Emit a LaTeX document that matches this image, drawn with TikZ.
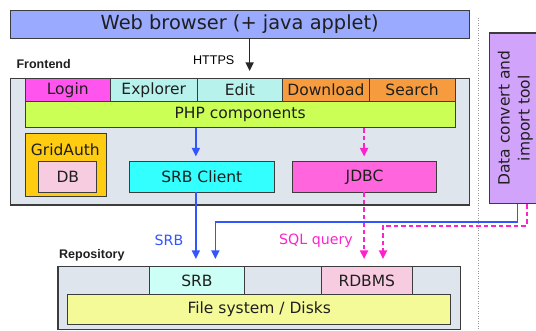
\documentclass[tikz,border=0pt]{standalone}
\usepackage{fontspec}
\setmainfont{DejaVu Sans}
\newfontfamily\arialf{Liberation Sans}
\usetikzlibrary{arrows.meta}
\definecolor{cBrowser}{RGB}{153,170,255}
\definecolor{cBack}{RGB}{222,229,236}
\definecolor{cLogin}{RGB}{255,85,238}
\definecolor{cLightCyan}{RGB}{184,242,236}
\definecolor{cOrange}{RGB}{247,156,62}
\definecolor{cPHP}{RGB}{204,255,85}
\definecolor{cGold}{RGB}{255,204,17}
\definecolor{cPink}{RGB}{248,204,224}
\definecolor{cCyan}{RGB}{51,255,255}
\definecolor{cJDBC}{RGB}{255,102,221}
\definecolor{cRSRB}{RGB}{204,255,245}
\definecolor{cFS}{RGB}{245,250,153}
\definecolor{cTool}{RGB}{210,163,250}
\definecolor{cBlueLine}{RGB}{51,85,255}
\definecolor{cPinkLine}{RGB}{255,34,204}
\definecolor{cBorder}{RGB}{60,60,60}
\begin{document}
\begin{tikzpicture}[x=1pt,y=-1pt,
  box/.style={draw=cBorder, line width=0.9pt, inner sep=0pt, anchor=north west,
    font=\fontsize{15.5}{18}\selectfont, text=black!88},
  outer/.style={box, line width=1.3pt},
  grp/.style={font=\arialf\bfseries\fontsize{12.5}{14}\selectfont, text=black!88, inner sep=0pt},
  blueflow/.style={draw=cBlueLine, line width=1.3pt, -{Triangle[length=8.5pt,width=8pt]}},
  pinkflow/.style={draw=cPinkLine, line width=1.7pt, dash pattern=on 4.5pt off 3pt,
    -{Triangle[length=8.5pt,width=8pt]}},
  lbl/.style={font=\fontsize{14.2}{16}\selectfont, inner sep=0pt}
]
\useasboundingbox (0,0) rectangle (536,331);

% browser
\node[box, fill=cBrowser, minimum width=459.4pt, minimum height=28pt,
  font=\fontsize{19.4}{22}\selectfont] (browser) at (9.6,9.6) {Web browser (+ java applet)};

% frontend
\node[grp, anchor=west] (frontlbl) at (16.4,64) {Frontend};
\node[outer, fill=cBack, minimum width=459.4pt, minimum height=126.3pt] (front) at (9.6,78) {};
\node[box, fill=cLogin, minimum width=85.4pt, minimum height=23.2pt] (login) at (24.6,78) {Login};
\node[box, fill=cLightCyan, minimum width=86.6pt, minimum height=23.2pt] (explorer) at (110,78) {Explorer};
\node[box, fill=cLightCyan, minimum width=85.8pt, minimum height=23.2pt] (edit) at (196.6,78) {Edit};
\node[box, fill=cOrange, minimum width=86.1pt, minimum height=23.2pt] (download) at (282.4,78) {Download};
\node[box, fill=cOrange, minimum width=86.2pt, minimum height=23.2pt] (search) at (368.5,78) {Search};
\node[box, fill=cPHP, minimum width=430.1pt, minimum height=26.2pt] (php) at (24.6,101.2) {PHP components};
\node[box, fill=cGold, minimum width=81.4pt, minimum height=62.5pt] (grid) at (24.6,133.2) {};
\node[font=\fontsize{15.5}{18}\selectfont, text=black!88, inner sep=0pt] (gridlbl) at (65.3,149.6) {GridAuth};
\node[box, fill=cPink, minimum width=58.1pt, minimum height=30.1pt] (db) at (38.3,161.5) {DB};
\node[box, fill=cCyan, minimum width=144.3pt, minimum height=30.1pt] (srbc) at (129.2,161.5) {SRB Client};
\node[box, fill=cJDBC, minimum width=143.6pt, minimum height=30.1pt] (jdbc) at (292.3,161.5) {JDBC};

% tool
\node[outer, fill=cTool, minimum width=52.5pt, minimum height=170.7pt] (tool) at (488.5,32.3) {};
\node[rotate=90, align=center, font=\fontsize{15.5}{20}\selectfont, text=black!88, inner sep=0pt]
  (tooltext) at (tool.center) {Data convert and\\import tool};

% repository
\node[grp, anchor=west] (repolbl) at (59,255.4) {Repository};
\node[outer, fill=cBack, minimum width=402.1pt, minimum height=63pt] (repo) at (57.4,266) {};
\node[box, fill=cRSRB, minimum width=95.7pt, minimum height=28.4pt] (rsrb) at (148.7,266) {SRB};
\node[box, fill=cPink, minimum width=91.3pt, minimum height=28.4pt] (rdbms) at (320.7,266) {RDBMS};
\node[box, fill=cFS, minimum width=383pt, minimum height=29.4pt] (fs) at (67.3,294.4) {File system / Disks};

% HTTPS
\coordinate (httpsEnd) at (249.6,71);
\draw[line width=1.3pt, black!85, -{Triangle[length=8.5pt,width=8pt]}] (browser.south -| httpsEnd) -- (httpsEnd);
\node[font=\arialf\fontsize{12.6}{14}\selectfont, inner sep=0pt] (httpslbl) at (213.7,59.8) {HTTPS};

% flows
\coordinate (bx) at (195.9,0);
\coordinate (px) at (364.1,0);
\draw[blueflow, shorten >=5pt] (php.south -| bx) -- (srbc.north -| bx);
\draw[pinkflow, shorten >=5pt] (php.south -| px) -- (jdbc.north -| px);
\draw[blueflow, shorten >=7pt] (srbc.south -| bx) -- (rsrb.north -| bx);
\draw[pinkflow, shorten >=7pt] (jdbc.south -| px) -- (rdbms.north -| px);

\coordinate (tb) at (517.3,222);
\coordinate (tbl) at (215.4,222);
\coordinate (tp) at (526.7,225.8);
\coordinate (tpl) at (383,225.8);
\draw[blueflow, shorten >=7pt] (tool.south -| tb) -- (tb) -- (tbl) -- (rsrb.north -| tbl);
\draw[pinkflow, shorten >=7pt] (tool.south -| tp) -- (tp) -- (tpl) -- (rdbms.north -| tpl);

\node[lbl, text=cBlueLine] (srblbl) at (169,240.3) {SRB};
\node[lbl, text=cPinkLine] (sqllbl) at (316,240.3) {SQL query};

% separator
\coordinate (sepTop) at (478,18);
\coordinate (sepBot) at (478,331);
\draw[gray!80, line width=0.7pt, dash pattern=on 1pt off 1.5pt] (sepTop) -- (sepBot);
\end{tikzpicture}
\end{document}
